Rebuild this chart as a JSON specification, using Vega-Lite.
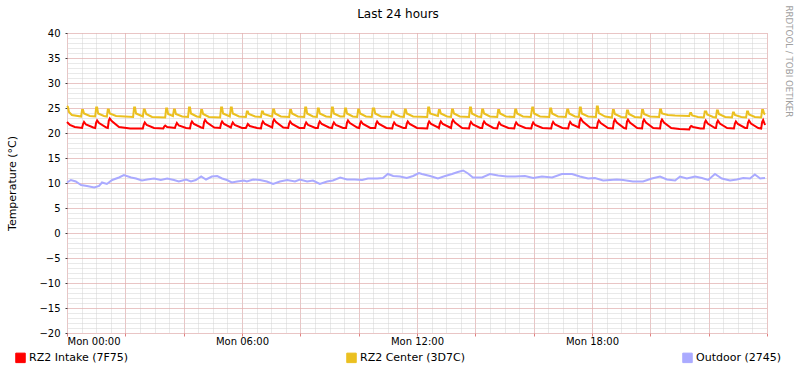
{
"$schema": "https://vega.github.io/schema/vega-lite/v6.json",
"width": 700, "height": 300,
"autosize": {"type": "none"},
"padding": {"left": 67, "top": 33, "right": 30, "bottom": 40},
"background": "#ffffff",
"title": {"text": "Last 24 hours", "font": "DejaVu Sans", "fontSize": 12, "fontWeight": "normal", "color": "#000000", "anchor": "middle", "dx": -19, "dy": 16, "offset": 0},
"config": {
  "view": {"stroke": null},
  "font": "DejaVu Sans",
  "axis": {"labelFont": "DejaVu Sans", "titleFont": "DejaVu Sans", "labelColor": "#000000", "labelFontSize": 10, "titleFontSize": 11, "titleFontWeight": "normal", "titleColor": "#000000"},
  "legend": {"orient": "none", "legendX": -52, "legendY": 319, "direction": "horizontal", "columns": 3, "columnPadding": 215, "symbolType": "square", "symbolSize": 90, "symbolStrokeWidth": 1, "symbolStrokeColor": "#000000", "labelFont": "DejaVu Sans", "labelFontSize": 11, "labelColor": "#000000", "labelOffset": 3, "padding": 0}
},
"datasets": {
"center": [{"m":0,"v":25.4},{"m":2,"v":25.2},{"m":4,"v":24.2},{"m":10,"v":23.6},{"m":29,"v":23.3},{"m":31,"v":24.6},{"m":33,"v":24.6},{"m":35,"v":23.9},{"m":47,"v":23.4},{"m":58,"v":23.3},{"m":60,"v":25.1},{"m":62,"v":25.1},{"m":64,"v":23.9},{"m":76,"v":23.4},{"m":82,"v":23.3},{"m":84,"v":24.7},{"m":86,"v":24.7},{"m":88,"v":23.9},{"m":101,"v":23.4},{"m":136,"v":23.2},{"m":138,"v":25.1},{"m":140,"v":25.1},{"m":142,"v":23.9},{"m":154,"v":23.4},{"m":156,"v":23.3},{"m":158,"v":24.7},{"m":160,"v":24.7},{"m":163,"v":23.8},{"m":175,"v":23.2},{"m":202,"v":23.1},{"m":204,"v":24.9},{"m":206,"v":24.9},{"m":208,"v":23.8},{"m":218,"v":23.4},{"m":220,"v":24.7},{"m":222,"v":24.7},{"m":224,"v":23.8},{"m":237,"v":23.3},{"m":249,"v":23.2},{"m":251,"v":25.1},{"m":253,"v":25.1},{"m":255,"v":23.9},{"m":267,"v":23.3},{"m":274,"v":23.2},{"m":276,"v":24.6},{"m":278,"v":24.6},{"m":280,"v":23.8},{"m":292,"v":23.2},{"m":315,"v":23.1},{"m":317,"v":25.1},{"m":319,"v":25.1},{"m":321,"v":23.9},{"m":333,"v":23.4},{"m":335,"v":23.3},{"m":337,"v":25.1},{"m":339,"v":25.1},{"m":341,"v":23.9},{"m":354,"v":23.3},{"m":368,"v":23.2},{"m":370,"v":24.3},{"m":372,"v":24.3},{"m":374,"v":23.8},{"m":387,"v":23.3},{"m":399,"v":23.2},{"m":401,"v":24.3},{"m":403,"v":24.3},{"m":405,"v":23.8},{"m":418,"v":23.4},{"m":422,"v":23.3},{"m":424,"v":24.7},{"m":426,"v":24.7},{"m":428,"v":23.9},{"m":440,"v":23.3},{"m":457,"v":23.2},{"m":459,"v":24.6},{"m":461,"v":24.6},{"m":463,"v":23.9},{"m":475,"v":23.3},{"m":488,"v":23.2},{"m":490,"v":25.1},{"m":492,"v":25.1},{"m":494,"v":23.9},{"m":506,"v":23.3},{"m":514,"v":23.2},{"m":516,"v":24.9},{"m":518,"v":24.9},{"m":520,"v":23.9},{"m":533,"v":23.3},{"m":543,"v":23.2},{"m":545,"v":25.1},{"m":547,"v":25.1},{"m":549,"v":23.9},{"m":562,"v":23.3},{"m":570,"v":23.3},{"m":572,"v":24.9},{"m":574,"v":24.9},{"m":576,"v":23.9},{"m":588,"v":23.3},{"m":597,"v":23.2},{"m":599,"v":24.7},{"m":601,"v":24.7},{"m":603,"v":23.9},{"m":615,"v":23.3},{"m":627,"v":23.2},{"m":629,"v":24.9},{"m":632,"v":24.9},{"m":634,"v":23.9},{"m":646,"v":23.3},{"m":666,"v":23.2},{"m":669,"v":24.3},{"m":671,"v":24.3},{"m":673,"v":23.8},{"m":685,"v":23.3},{"m":693,"v":23.2},{"m":695,"v":24.7},{"m":697,"v":24.7},{"m":699,"v":23.9},{"m":712,"v":23.3},{"m":741,"v":23.2},{"m":743,"v":25.1},{"m":745,"v":25.1},{"m":747,"v":23.9},{"m":763,"v":23.4},{"m":765,"v":24.6},{"m":767,"v":24.6},{"m":769,"v":23.9},{"m":782,"v":23.3},{"m":790,"v":23.2},{"m":792,"v":24.7},{"m":794,"v":24.7},{"m":796,"v":23.9},{"m":808,"v":23.3},{"m":827,"v":23.2},{"m":829,"v":25.1},{"m":831,"v":25.1},{"m":833,"v":23.9},{"m":845,"v":23.3},{"m":852,"v":23.2},{"m":854,"v":24.7},{"m":856,"v":24.7},{"m":858,"v":23.9},{"m":870,"v":23.3},{"m":885,"v":23.2},{"m":887,"v":24.6},{"m":889,"v":24.6},{"m":891,"v":23.9},{"m":903,"v":23.3},{"m":920,"v":23.2},{"m":922,"v":24.7},{"m":924,"v":24.7},{"m":926,"v":23.9},{"m":938,"v":23.3},{"m":954,"v":23.2},{"m":957,"v":25.1},{"m":959,"v":25.1},{"m":961,"v":23.9},{"m":973,"v":23.3},{"m":992,"v":23.2},{"m":994,"v":24.9},{"m":996,"v":24.9},{"m":998,"v":23.9},{"m":1010,"v":23.3},{"m":1026,"v":23.2},{"m":1029,"v":24.7},{"m":1031,"v":24.7},{"m":1033,"v":23.9},{"m":1045,"v":23.3},{"m":1053,"v":23.2},{"m":1055,"v":25.1},{"m":1057,"v":25.1},{"m":1059,"v":23.9},{"m":1072,"v":23.3},{"m":1088,"v":23.2},{"m":1090,"v":25.3},{"m":1092,"v":25.3},{"m":1094,"v":24.0},{"m":1107,"v":23.3},{"m":1121,"v":23.1},{"m":1123,"v":24.6},{"m":1125,"v":24.6},{"m":1127,"v":23.8},{"m":1140,"v":23.2},{"m":1150,"v":23.1},{"m":1152,"v":24.5},{"m":1154,"v":24.5},{"m":1156,"v":23.8},{"m":1168,"v":23.2},{"m":1181,"v":23.1},{"m":1183,"v":24.6},{"m":1185,"v":24.6},{"m":1187,"v":23.8},{"m":1199,"v":23.3},{"m":1218,"v":23.2},{"m":1220,"v":24.7},{"m":1222,"v":24.7},{"m":1224,"v":23.9},{"m":1236,"v":23.6},{"m":1251,"v":23.5},{"m":1280,"v":23.4},{"m":1282,"v":24.0},{"m":1284,"v":24.0},{"m":1286,"v":23.5},{"m":1298,"v":23.2},{"m":1310,"v":23.1},{"m":1312,"v":24.3},{"m":1315,"v":24.3},{"m":1317,"v":23.7},{"m":1329,"v":23.2},{"m":1335,"v":23.1},{"m":1337,"v":24.5},{"m":1339,"v":24.5},{"m":1341,"v":23.8},{"m":1354,"v":23.2},{"m":1368,"v":23.1},{"m":1370,"v":24.1},{"m":1372,"v":24.1},{"m":1374,"v":23.6},{"m":1387,"v":23.2},{"m":1397,"v":23.1},{"m":1399,"v":24.3},{"m":1401,"v":24.3},{"m":1403,"v":23.7},{"m":1415,"v":23.2},{"m":1428,"v":23.1},{"m":1430,"v":24.6},{"m":1432,"v":24.6},{"m":1434,"v":23.9},{"m":1436,"v":23.7}],
"intake": [{"m":0,"v":22.2},{"m":2,"v":22.0},{"m":6,"v":21.6},{"m":16,"v":21.2},{"m":31,"v":21.0},{"m":33,"v":21.8},{"m":35,"v":22.2},{"m":39,"v":21.7},{"m":54,"v":21.1},{"m":58,"v":21.0},{"m":60,"v":22.1},{"m":62,"v":22.5},{"m":66,"v":22.0},{"m":81,"v":21.1},{"m":84,"v":21.0},{"m":86,"v":22.5},{"m":88,"v":22.9},{"m":92,"v":22.4},{"m":107,"v":21.2},{"m":130,"v":20.9},{"m":156,"v":20.9},{"m":158,"v":21.7},{"m":160,"v":22.1},{"m":164,"v":21.6},{"m":179,"v":21.0},{"m":198,"v":20.9},{"m":200,"v":21.3},{"m":202,"v":21.5},{"m":206,"v":21.2},{"m":222,"v":21.0},{"m":224,"v":21.6},{"m":226,"v":22.0},{"m":230,"v":21.5},{"m":245,"v":21.0},{"m":253,"v":20.9},{"m":255,"v":21.9},{"m":257,"v":22.3},{"m":261,"v":21.8},{"m":276,"v":21.1},{"m":280,"v":21.0},{"m":282,"v":22.2},{"m":284,"v":22.6},{"m":288,"v":22.1},{"m":303,"v":21.1},{"m":315,"v":21.0},{"m":317,"v":21.9},{"m":319,"v":22.3},{"m":323,"v":21.8},{"m":337,"v":21.1},{"m":339,"v":21.7},{"m":341,"v":22.1},{"m":345,"v":21.6},{"m":360,"v":21.0},{"m":368,"v":21.0},{"m":370,"v":21.4},{"m":372,"v":21.8},{"m":376,"v":21.4},{"m":391,"v":21.0},{"m":399,"v":20.9},{"m":401,"v":21.9},{"m":403,"v":22.3},{"m":407,"v":21.8},{"m":422,"v":21.1},{"m":424,"v":22.3},{"m":426,"v":22.7},{"m":430,"v":22.2},{"m":445,"v":21.1},{"m":455,"v":21.0},{"m":457,"v":21.9},{"m":459,"v":22.3},{"m":463,"v":21.8},{"m":478,"v":21.0},{"m":488,"v":21.0},{"m":490,"v":21.7},{"m":492,"v":22.1},{"m":496,"v":21.6},{"m":511,"v":21.0},{"m":516,"v":21.0},{"m":518,"v":21.9},{"m":520,"v":22.3},{"m":524,"v":21.8},{"m":539,"v":21.1},{"m":545,"v":21.0},{"m":547,"v":21.7},{"m":549,"v":22.1},{"m":553,"v":21.6},{"m":568,"v":21.0},{"m":574,"v":21.0},{"m":576,"v":22.1},{"m":578,"v":22.5},{"m":582,"v":22.0},{"m":597,"v":21.1},{"m":601,"v":21.0},{"m":603,"v":21.9},{"m":605,"v":22.3},{"m":609,"v":21.8},{"m":624,"v":21.0},{"m":634,"v":21.0},{"m":636,"v":21.9},{"m":638,"v":22.3},{"m":642,"v":21.8},{"m":657,"v":21.0},{"m":669,"v":20.9},{"m":671,"v":21.7},{"m":673,"v":22.1},{"m":677,"v":21.6},{"m":692,"v":21.0},{"m":697,"v":21.0},{"m":699,"v":21.9},{"m":701,"v":22.3},{"m":705,"v":21.8},{"m":720,"v":21.0},{"m":741,"v":20.9},{"m":743,"v":21.9},{"m":745,"v":22.3},{"m":749,"v":21.8},{"m":764,"v":21.1},{"m":765,"v":21.0},{"m":767,"v":21.9},{"m":769,"v":22.3},{"m":773,"v":21.8},{"m":788,"v":21.1},{"m":790,"v":21.0},{"m":792,"v":22.2},{"m":794,"v":22.6},{"m":798,"v":22.1},{"m":813,"v":21.0},{"m":827,"v":20.9},{"m":829,"v":21.8},{"m":831,"v":22.2},{"m":835,"v":21.7},{"m":850,"v":21.0},{"m":854,"v":21.0},{"m":856,"v":21.9},{"m":858,"v":22.3},{"m":862,"v":21.8},{"m":877,"v":21.0},{"m":885,"v":20.9},{"m":887,"v":21.7},{"m":889,"v":22.1},{"m":893,"v":21.6},{"m":908,"v":21.0},{"m":920,"v":20.9},{"m":922,"v":21.7},{"m":924,"v":22.1},{"m":928,"v":21.6},{"m":943,"v":21.0},{"m":955,"v":20.9},{"m":957,"v":21.7},{"m":959,"v":22.1},{"m":963,"v":21.6},{"m":978,"v":21.0},{"m":996,"v":20.9},{"m":998,"v":21.8},{"m":1000,"v":22.2},{"m":1004,"v":21.7},{"m":1019,"v":21.0},{"m":1031,"v":20.9},{"m":1033,"v":21.8},{"m":1035,"v":22.2},{"m":1039,"v":21.7},{"m":1053,"v":21.1},{"m":1055,"v":22.5},{"m":1057,"v":22.9},{"m":1061,"v":22.3},{"m":1076,"v":21.1},{"m":1090,"v":21.0},{"m":1092,"v":22.1},{"m":1094,"v":22.5},{"m":1098,"v":22.0},{"m":1113,"v":21.0},{"m":1123,"v":20.9},{"m":1125,"v":22.3},{"m":1127,"v":22.7},{"m":1131,"v":22.1},{"m":1146,"v":21.0},{"m":1150,"v":20.9},{"m":1152,"v":22.3},{"m":1154,"v":22.7},{"m":1158,"v":22.1},{"m":1173,"v":21.0},{"m":1183,"v":20.9},{"m":1185,"v":22.3},{"m":1187,"v":22.7},{"m":1191,"v":22.1},{"m":1206,"v":21.0},{"m":1220,"v":20.9},{"m":1222,"v":22.3},{"m":1224,"v":22.7},{"m":1228,"v":22.1},{"m":1243,"v":21.0},{"m":1260,"v":20.8},{"m":1280,"v":20.7},{"m":1282,"v":21.2},{"m":1284,"v":21.4},{"m":1288,"v":21.2},{"m":1303,"v":20.9},{"m":1310,"v":20.9},{"m":1312,"v":22.1},{"m":1314,"v":22.5},{"m":1318,"v":21.9},{"m":1333,"v":21.0},{"m":1335,"v":21.0},{"m":1337,"v":22.1},{"m":1339,"v":22.5},{"m":1343,"v":21.9},{"m":1358,"v":21.0},{"m":1372,"v":20.9},{"m":1374,"v":21.9},{"m":1376,"v":22.3},{"m":1380,"v":21.8},{"m":1395,"v":21.0},{"m":1399,"v":21.0},{"m":1401,"v":22.1},{"m":1403,"v":22.5},{"m":1407,"v":21.9},{"m":1422,"v":21.0},{"m":1428,"v":20.9},{"m":1430,"v":22.2},{"m":1432,"v":22.6},{"m":1436,"v":21.6}],
"outdoor": [{"m":0,"v":10.1},{"m":8,"v":10.6},{"m":18,"v":10.3},{"m":29,"v":9.6},{"m":41,"v":9.4},{"m":56,"v":9.1},{"m":66,"v":9.4},{"m":72,"v":10.1},{"m":82,"v":9.8},{"m":93,"v":10.6},{"m":107,"v":11.1},{"m":117,"v":11.6},{"m":132,"v":11.1},{"m":142,"v":10.9},{"m":154,"v":10.5},{"m":165,"v":10.7},{"m":179,"v":10.9},{"m":193,"v":10.6},{"m":206,"v":10.9},{"m":220,"v":10.6},{"m":230,"v":10.3},{"m":245,"v":10.7},{"m":255,"v":10.3},{"m":265,"v":10.6},{"m":276,"v":11.3},{"m":286,"v":10.7},{"m":298,"v":11.3},{"m":309,"v":11.4},{"m":319,"v":10.9},{"m":329,"v":10.6},{"m":339,"v":10.1},{"m":350,"v":10.3},{"m":364,"v":10.5},{"m":370,"v":10.3},{"m":383,"v":10.7},{"m":397,"v":10.6},{"m":411,"v":10.3},{"m":424,"v":9.8},{"m":438,"v":10.3},{"m":453,"v":10.6},{"m":469,"v":10.3},{"m":479,"v":10.7},{"m":494,"v":10.3},{"m":506,"v":10.5},{"m":520,"v":9.8},{"m":535,"v":10.3},{"m":547,"v":10.5},{"m":562,"v":11.1},{"m":576,"v":10.7},{"m":592,"v":10.7},{"m":607,"v":10.6},{"m":619,"v":10.9},{"m":638,"v":10.9},{"m":650,"v":11.0},{"m":660,"v":11.8},{"m":671,"v":11.4},{"m":685,"v":11.3},{"m":699,"v":11.0},{"m":712,"v":11.4},{"m":724,"v":12.0},{"m":730,"v":11.8},{"m":747,"v":11.4},{"m":763,"v":10.9},{"m":778,"v":11.4},{"m":792,"v":11.8},{"m":804,"v":12.2},{"m":815,"v":12.5},{"m":825,"v":11.9},{"m":835,"v":11.1},{"m":854,"v":11.1},{"m":870,"v":11.8},{"m":887,"v":11.5},{"m":905,"v":11.3},{"m":922,"v":11.3},{"m":942,"v":11.4},{"m":959,"v":11.0},{"m":977,"v":11.3},{"m":998,"v":11.1},{"m":1018,"v":11.8},{"m":1039,"v":11.8},{"m":1055,"v":11.3},{"m":1072,"v":10.9},{"m":1086,"v":11.0},{"m":1103,"v":10.5},{"m":1117,"v":10.6},{"m":1131,"v":10.7},{"m":1144,"v":10.6},{"m":1164,"v":10.3},{"m":1185,"v":10.3},{"m":1203,"v":10.9},{"m":1220,"v":11.3},{"m":1234,"v":10.7},{"m":1251,"v":10.5},{"m":1261,"v":11.3},{"m":1275,"v":10.9},{"m":1292,"v":11.3},{"m":1306,"v":11.0},{"m":1319,"v":10.6},{"m":1333,"v":11.8},{"m":1347,"v":10.9},{"m":1364,"v":10.5},{"m":1378,"v":10.7},{"m":1391,"v":11.0},{"m":1405,"v":10.9},{"m":1415,"v":11.7},{"m":1426,"v":10.9},{"m":1436,"v":11.0}]
},
"resolve": {"axis": {"x": "independent", "y": "independent"}},
"layer": [
  {
    "data": {"name": "outdoor"},
    "mark": {"type": "line", "strokeWidth": 2},
    "encoding": {
      "x": {"field": "m", "type": "quantitative", "scale": {"domain": [0, 1440], "nice": false, "zero": false},
        "axis": {"orient": "bottom", "values": [0,30,60,90,120,150,180,210,240,270,300,330,360,390,420,450,480,510,540,570,600,630,660,690,720,750,780,810,840,870,900,930,960,990,1020,1050,1080,1110,1140,1170,1200,1230,1260,1290,1320,1350,1380,1410,1440], "grid": true, "gridColor": "#d2d2d2", "gridDash": [1, 1], "gridWidth": 1, "labels": false, "ticks": false, "domain": false, "title": null}},
      "y": {"field": "v", "type": "quantitative", "scale": {"domain": [-20, 40], "nice": false, "zero": false},
        "axis": {"orient": "left", "values": [-20,-19,-18,-17,-16,-15,-14,-13,-12,-11,-10,-9,-8,-7,-6,-5,-4,-3,-2,-1,0,1,2,3,4,5,6,7,8,9,10,11,12,13,14,15,16,17,18,19,20,21,22,23,24,25,26,27,28,29,30,31,32,33,34,35,36,37,38,39,40], "grid": true, "gridColor": "#d2d2d2", "gridDash": [1, 1], "gridWidth": 1, "labels": false, "ticks": false, "domain": false, "title": null}},
      "color": {"datum": "Outdoor (2745)", "type": "nominal",
        "scale": {"domain": ["RZ2 Intake (7F75)", "RZ2 Center (3D7C)", "Outdoor (2745)"], "range": ["#ff0000", "#ebc020", "#aaaaff"]},
        "legend": {"title": null, "encode": {"symbols": {"update": {"fill": {"scale": "color", "field": "value"}, "stroke": {"value": "#000000"}, "strokeWidth": {"value": 1}, "opacity": {"value": 1}}}}}}
    }
  },
  {
    "data": {"name": "intake"},
    "mark": {"type": "line", "strokeWidth": 2},
    "encoding": {
      "x": {"field": "m", "type": "quantitative",
        "axis": {"orient": "bottom", "values": [0,120,240,360,480,600,720,840,960,1080,1200,1320,1440], "grid": true, "gridColor": "#e8a0a0", "gridDash": [1, 1], "gridWidth": 1, "labels": false, "ticks": true, "tickColor": "#e08080", "tickSize": 3, "domain": false, "title": null}},
      "y": {"field": "v", "type": "quantitative",
        "axis": {"orient": "left", "values": [-20,-15,-10,-5,0,5,10,15,20,25,30,35,40], "grid": true, "gridColor": "#e8a0a0", "gridDash": [1, 1], "gridWidth": 1, "labels": false, "ticks": false, "domain": false, "title": null}},
      "color": {"datum": "RZ2 Intake (7F75)", "type": "nominal"}
    }
  },
  {
    "data": {"name": "center"},
    "mark": {"type": "line", "strokeWidth": 2},
    "encoding": {
      "x": {"field": "m", "type": "quantitative",
        "axis": {"orient": "bottom", "values": [0, 360, 720, 1080], "grid": false, "ticks": false, "domain": false, "labelPadding": 3, "labelExpr": "'Mon ' + (datum.value < 600 ? '0' : '') + floor(datum.value / 60) + ':00'", "title": null}},
      "y": {"field": "v", "type": "quantitative",
        "axis": {"orient": "left", "values": [-20,-15,-10,-5,0,5,10,15,20,25,30,35,40], "grid": false, "ticks": true, "tickSize": 2, "tickColor": "#404040", "labelPadding": 5, "domain": false,
          "title": "Temperature (°C)", "titleAngle": 270, "titleX": -55, "titleY": 150, "titleAlign": "center", "titleBaseline": "middle"}},
      "color": {"datum": "RZ2 Center (3D7C)", "type": "nominal"}
    }
  },
  {
    "mark": {"type": "rule", "color": "#3c3c3c", "strokeWidth": 1},
    "encoding": {"x": {"datum": 0, "type": "quantitative", "axis": null}, "y": {"datum": -20, "type": "quantitative", "axis": null}, "y2": {"datum": 40.6}}
  },
  {
    "mark": {"type": "rule", "color": "#3c3c3c", "strokeWidth": 1},
    "encoding": {"x": {"datum": 0, "type": "quantitative", "axis": null}, "x2": {"datum": 1448}, "y": {"datum": -20, "type": "quantitative", "axis": null}}
  },
  {
    "mark": {"type": "point", "shape": "triangle-up", "filled": true, "color": "#a02020", "size": 30, "opacity": 1},
    "encoding": {"x": {"datum": 0, "type": "quantitative", "axis": null},
      "y": {"datum": 40.9, "type": "quantitative",
        "axis": {"orient": "right", "labels": false, "ticks": false, "domain": false, "grid": false,
          "title": "RRDTOOL / TOBI OETIKER", "titleAngle": 90, "titleX": 21, "titleY": -28, "titleAlign": "left", "titleBaseline": "middle", "titleFontSize": 8.7, "titleColor": "#a0a0a0"}}}
  },
  {
    "mark": {"type": "point", "shape": "triangle-right", "filled": true, "color": "#a02020", "size": 30, "opacity": 1},
    "encoding": {"x": {"datum": 1450, "type": "quantitative", "axis": null}, "y": {"datum": -20, "type": "quantitative", "axis": null}}
  }
]
}
